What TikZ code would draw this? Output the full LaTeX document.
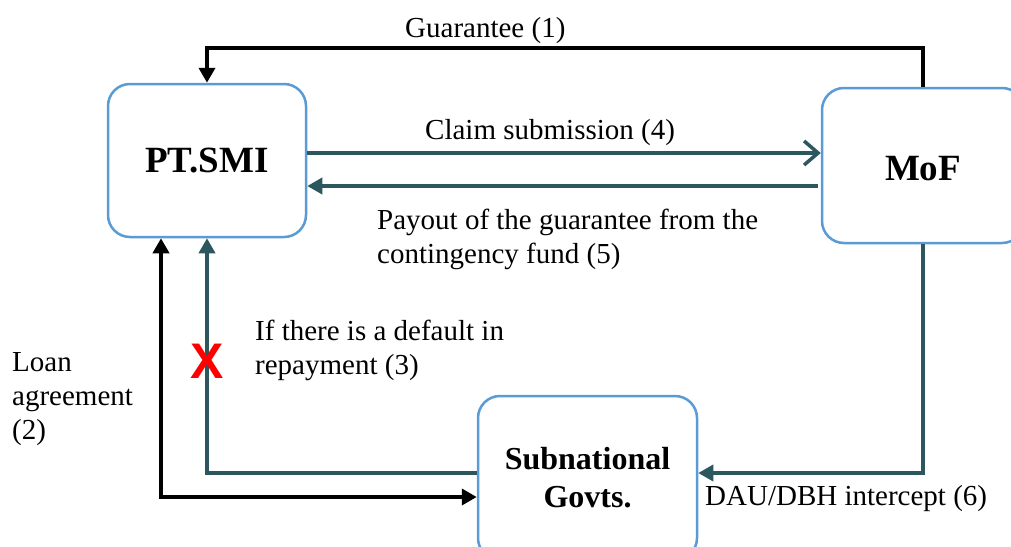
\documentclass[tikz,border=0pt]{standalone}
\usepackage{fontspec}
\setmainfont{Liberation Serif}
\newfontfamily\xsans{Liberation Sans}
\usetikzlibrary{arrows.meta,calc}
\definecolor{boxblue}{RGB}{91,155,213}
\definecolor{tealc}{RGB}{45,87,94}
\begin{document}
\begin{tikzpicture}[x=1pt,y=-1pt,
  box/.style={draw=boxblue, line width=2.5pt, rounded corners=22pt, fill=white, inner sep=0pt, align=center},
  boxtxt/.style={font=\fontsize{37}{40}\selectfont\bfseries},
  subtxt/.style={font=\fontsize{32}{38}\selectfont\bfseries},
  lbl/.style={font=\fontsize{29}{34}\selectfont, inner sep=0pt, anchor=base west},
  blk/.style={draw=black, line width=4pt},
  tl/.style={draw=tealc, line width=3.5pt},
  tip/.style={-{Triangle[length=15pt,width=16pt]}},
  tiptwo/.style={{Triangle[length=15pt,width=16pt]}-{Triangle[length=15pt,width=16pt]}},
  barb/.style={-{Straight Barb[length=14pt,width=24pt,line width=3.5pt]}}
]
\useasboundingbox (0,0) rectangle (1011,546);
\begin{scope}
\clip (0,0) rectangle (1011,546);
% boxes
\node[box, boxtxt, minimum width=198pt, minimum height=153pt] (pt) at (207,160.5) {PT.SMI};
\node[box, boxtxt, minimum width=202pt, minimum height=155pt, text depth=0pt] (mof) at (923,165.5) {\raisebox{-6pt}{MoF}};
\node[box, subtxt, minimum width=219pt, minimum height=164pt] (sub) at (587.5,478) {Subnational\\Govts.};

% connectors
\draw[blk, tip] (mof.north) -- ++(0,-39) coordinate (g1) -| (pt.north);
\draw[tl, barb] (pt.east |- 0,153) -- (mof.west |- 0,153);
\draw[tl, tip] ($(mof.west |- 0,186)+(-3,0)$) -- (pt.east |- 0,186);
\draw[blk, tiptwo] (pt.south -| 161,0) |- (sub.west |- 0,497);
\draw[tl, tip] (sub.west |- 0,473) -| (pt.south);
\draw[tl, tip] (mof.south) |- (sub.east |- 0,473);
\end{scope}

% labels
\node[lbl] (lg) at (405,37) {Guarantee (1)};
\node[lbl] (lc) at (425,139) {Claim submission (4)};
\node[lbl] (lp1) at (377,229) {Payout of the guarantee from the};
\node[lbl] (lp2) at (377,263) {contingency fund (5)};
\node[lbl] (ld1) at (255,340) {If there is a default in};
\node[lbl] (ld2) at (255,374) {repayment (3)};
\node[lbl] (ll1) at (12,371) {Loan};
\node[lbl] (ll2) at (12,405) {agreement};
\node[lbl] (ll3) at (12,439) {(2)};
\node[lbl] (li) at (705,505) {DAU/DBH intercept (6)};
\node[font=\xsans\fontsize{50}{50}\selectfont\bfseries, text=red, inner sep=0pt] (x) at (207,361) {X};
\end{tikzpicture}
\end{document}
